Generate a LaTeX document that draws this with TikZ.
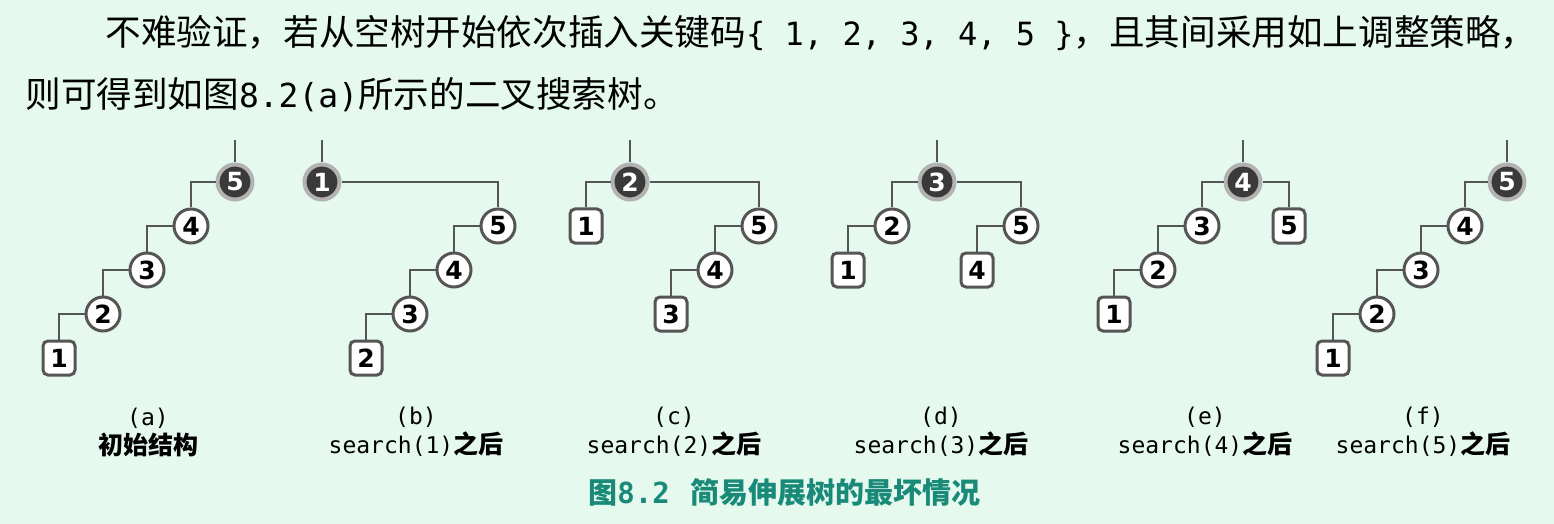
\documentclass[tikz,border=0pt]{standalone}
\usepackage{fontspec}
\setmainfont{DejaVu Sans}
\setmonofont{DejaVu Sans Mono}
\newfontfamily\cjk{Noto Sans CJK SC}
\usetikzlibrary{positioning}
\definecolor{bgmint}{RGB}{229,249,239}
\definecolor{edgegray}{RGB}{85,85,85}
\definecolor{rootdark}{RGB}{58,58,58}
\definecolor{halogray}{RGB}{178,178,178}
\definecolor{captteal}{RGB}{26,138,120}

\begin{document}
\begin{tikzpicture}[
 x=0.5pt, y=-0.5pt,
 node distance=22pt and 22pt, on grid,
 key/.style={circle, draw=edgegray, fill=white, line width=1.5pt, minimum size=17pt, inner sep=0pt, font=\fontsize{12.5}{14}\selectfont\bfseries},
 root/.style={key, fill=rootdark, draw=halogray, line width=2pt, minimum size=17.5pt, text=white},
 leaf/.style={rectangle, rounded corners=2.5pt, draw=edgegray, fill=white, line width=1.5pt, minimum width=16pt, minimum height=17pt, inner sep=0pt, font=\fontsize{12.5}{14}\selectfont\bfseries},
 edge/.style={draw=edgegray, line width=1.4pt},
 capt/.style={align=center, font=\fontsize{11.5}{14.5}\selectfont},
 para/.style={anchor=base west, inner sep=0pt, font=\fontsize{17.8}{20}\selectfont}
]
\useasboundingbox (0,0) rectangle (1554,524);
\fill[bgmint] (0,0) rectangle (1554,524);

% Text above
\node[para] (line1) at (105,46) {{\cjk 不难验证，若从空树开始依次插入关键码}{\ttfamily\fontsize{16}{20}\selectfont\{ 1, 2, 3, 4, 5 \}}{\cjk ，且其间采用如上调整策略，}};
\node[para] (line2) at (25,108) {{\cjk 则可得到如图}{\ttfamily\fontsize{16.5}{20}\selectfont 8.2(a)}{\cjk 所示的二叉搜索树。}};

% Tree (a)
\node[root] (a5) at (235,182) {5};
\node[key, below left=of a5] (a4) {4};
\node[key, below left=of a4] (a3) {3};
\node[key, below left=of a3] (a2) {2};
\node[leaf, below left=of a2] (a1) {1};
\coordinate (a0) at (235,140);

% Tree (b)
\node[root] (b1) at (322,182) {1};
\node[key, below right=22pt and 88pt of b1] (b5) {5};
\node[key, below left=of b5] (b4) {4};
\node[key, below left=of b4] (b3) {3};
\node[leaf, below left=of b3] (b2) {2};
\coordinate (b0) at (322,140);

% Tree (c)
\node[root] (c2) at (630,182) {2};
\node[leaf, below left=of c2] (c1) {1};
\node[key, below right=22pt and 64.5pt of c2] (c5) {5};
\node[key, below left=of c5] (c4) {4};
\node[leaf, below left=of c4] (c3) {3};
\coordinate (c0) at (630,140);

% Tree (d)
\node[root] (d3) at (937,182) {3};
\node[key, below left=22pt and 22.5pt of d3] (d2) {2};
\node[key, below right=22pt and 42pt of d3] (d5) {5};
\node[leaf, below left=of d2] (d1) {1};
\node[leaf, below left=of d5] (d4) {4};
\coordinate (d0) at (937,140);

% Tree (e)
\node[root] (e4) at (1243,182) {4};
\node[key, below left=22pt and 20.5pt of e4] (e3) {3};
\node[leaf, below right=22pt and 23pt of e4] (e5) {5};
\node[key, below left=of e3] (e2) {2};
\node[leaf, below left=of e2] (e1) {1};
\coordinate (e0) at (1243,140);

% Tree (f)
\node[root] (f5) at (1507,182) {5};
\node[key, below left=22pt and 21pt of f5] (f4) {4};
\node[key, below left=of f4] (f3) {3};
\node[key, below left=of f3] (f2) {2};
\node[leaf, below left=of f2] (f1) {1};
\coordinate (f0) at (1507,140);

% Edges
\draw[edge] (a0) -- (a5.north);
\draw[edge] (a5.west) -| (a4.north);
\draw[edge] (a4.west) -| (a3.north);
\draw[edge] (a3.west) -| (a2.north);
\draw[edge] (a2.west) -| (a1.north);

\draw[edge] (b0) -- (b1.north);
\draw[edge] (b1.east) -| (b5.north);
\draw[edge] (b5.west) -| (b4.north);
\draw[edge] (b4.west) -| (b3.north);
\draw[edge] (b3.west) -| (b2.north);

\draw[edge] (c0) -- (c2.north);
\draw[edge] (c2.west) -| (c1.north);
\draw[edge] (c2.east) -| (c5.north);
\draw[edge] (c5.west) -| (c4.north);
\draw[edge] (c4.west) -| (c3.north);

\draw[edge] (d0) -- (d3.north);
\draw[edge] (d3.west) -| (d2.north);
\draw[edge] (d3.east) -| (d5.north);
\draw[edge] (d2.west) -| (d1.north);
\draw[edge] (d5.west) -| (d4.north);

\draw[edge] (e0) -- (e4.north);
\draw[edge] (e4.west) -| (e3.north);
\draw[edge] (e4.east) -| (e5.north);
\draw[edge] (e3.west) -| (e2.north);
\draw[edge] (e2.west) -| (e1.north);

\draw[edge] (f0) -- (f5.north);
\draw[edge] (f5.west) -| (f4.north);
\draw[edge] (f4.west) -| (f3.north);
\draw[edge] (f3.west) -| (f2.north);
\draw[edge] (f2.west) -| (f1.north);

% Captions
\node[capt] (capa) at (148,432) {{\ttfamily (a)}\\{\cjk\bfseries\fontsize{12.5}{14.5}\selectfont 初始结构}};
\node[capt] (capb) at (416,432) {{\ttfamily (b)}\\{\ttfamily search(1)}{\cjk\bfseries\fontsize{12.5}{14.5}\selectfont 之后}};
\node[capt] (capc) at (674,432) {{\ttfamily (c)}\\{\ttfamily search(2)}{\cjk\bfseries\fontsize{12.5}{14.5}\selectfont 之后}};
\node[capt] (capd) at (941,432) {{\ttfamily (d)}\\{\ttfamily search(3)}{\cjk\bfseries\fontsize{12.5}{14.5}\selectfont 之后}};
\node[capt] (cape) at (1205,432) {{\ttfamily (e)}\\{\ttfamily search(4)}{\cjk\bfseries\fontsize{12.5}{14.5}\selectfont 之后}};
\node[capt] (capf) at (1423,432) {{\ttfamily (f)}\\{\ttfamily search(5)}{\cjk\bfseries\fontsize{12.5}{14.5}\selectfont 之后}};

% Figure title
\node[anchor=base west, inner sep=0pt, text=captteal, font=\bfseries\fontsize{14.5}{16}\selectfont] (figcap) at (588,503) {{\cjk 图}{\ttfamily 8.2}\hspace{0.7em}{\cjk 简易伸展树的最坏情况}};

\end{tikzpicture}
\end{document}
